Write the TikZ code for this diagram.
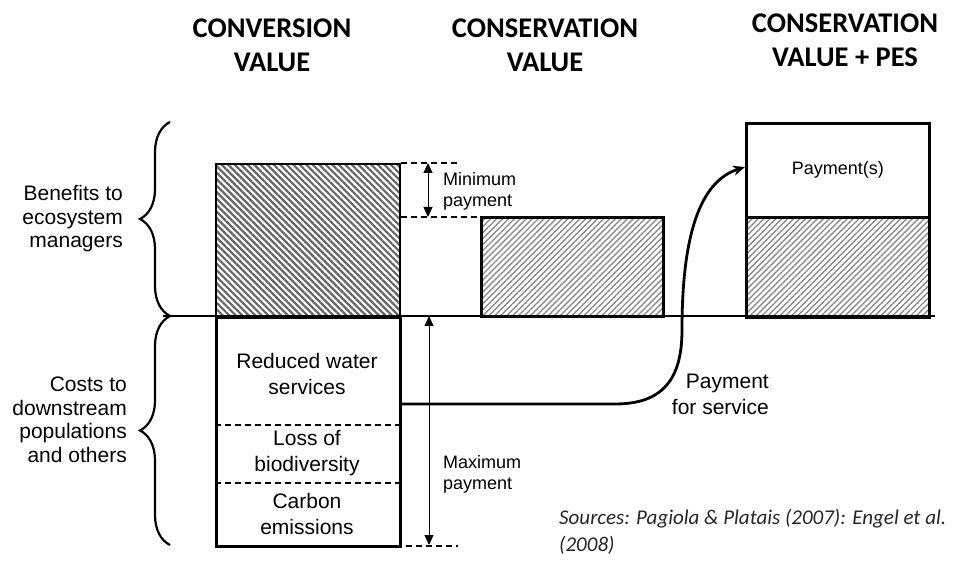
\documentclass[tikz,border=0pt]{standalone}
\usepackage{fontspec}
\setmainfont{Liberation Sans}
\newfontfamily\hdrfont{Carlito}
\usetikzlibrary{patterns.meta,decorations.pathreplacing,arrows.meta,calc}
\begin{document}
\begin{tikzpicture}[x=1pt,y=-1pt,
  box/.style={draw, line width=2.6pt, inner sep=0pt, anchor=north west},
  darkhatch/.style={pattern={Lines[angle=-45,distance=4.6pt,line width=2.2pt]}, pattern color=black!60},
  lighthatch/.style={pattern={Lines[angle=45,distance=4.2pt,line width=1.4pt]}, pattern color=black!45},
  body/.style={font=\fontsize{18}{21}\selectfont, inner sep=0pt, align=center},
  bigbody/.style={font=\fontsize{21}{26}\selectfont, inner sep=0pt, align=center},
  sidelab/.style={font=\fontsize{21}{23.5}\selectfont, inner sep=0pt, anchor=east, align=right},
  hdr/.style={font=\hdrfont\bfseries\fontsize{28.5}{34}\selectfont, inner sep=0pt, align=center},
  dashline/.style={line width=1.3pt, dash pattern=on 6pt off 4pt},
  dimarrow/.style={line width=0.9pt, {Triangle[length=10pt,width=9pt]}-{Triangle[length=10pt,width=9pt]}},
  bracestyle/.style={decorate, decoration={brace, amplitude=30pt}, line width=2.2pt},
]
\useasboundingbox (0,0) rectangle (964,561);

% headers
\node[hdr] (h1) at (272,45) {CONVERSION\\VALUE};
\node[hdr] (h2) at (545,45) {CONSERVATION\\VALUE};
\node[hdr] (h3) at (845,40) {CONSERVATION\\VALUE + PES};

% boxes
\node[box, darkhatch, minimum width=184pt, minimum height=153pt] (conv) at (215,163) {};
\node[box, minimum width=184pt, minimum height=229pt] (costs) at (215,316) {};
\node[box, lighthatch, minimum width=182pt, minimum height=99pt] (cons) at (481,217) {};
\node[box, minimum width=183pt, minimum height=94pt] (pay) at (745,122) {};
\node[box, lighthatch, minimum width=183pt, minimum height=100pt] (pes) at (745,216) {};

% baseline
\coordinate (bl) at (163,316);
\coordinate (br) at (935,316);
\draw[line width=2pt] (bl) -- (br);

% separators in costs box
\coordinate (s1) at (215,425);
\coordinate (s2) at (215,483);
\draw[dashline] (s1) -- (s1 -| costs.east);
\draw[dashline] (s2) -- (s2 -| costs.east);

% texts inside
\node[bigbody] (t1) at (307,374) {Reduced water\\services};
\node[bigbody] (t2) at (307,453) {Loss of\\biodiversity};
\node[bigbody] (t3) at (307,514) {Carbon\\emissions};
\node[body] (t4) at (pay.center) {Payment(s)};

% minimum payment
\coordinate (m1) at (458,163);
\draw[dashline] (conv.north east) -- (m1);
\draw[dashline] (conv.east |- cons.north) -- (cons.north west);
\coordinate (ma) at (428,163);
\coordinate (mb) at (428,217);
\draw[dimarrow] (ma) -- (mb);
\node[body, anchor=west, align=left] (minlab) at (443,191) {Minimum\\payment};

% maximum payment
\coordinate (xa) at (429,316);
\coordinate (xb) at (429,545);
\draw[dimarrow] (xa) -- (xb);
\coordinate (d1) at (406,546);
\coordinate (d2) at (458,546);
\draw[dashline] (d1) -- (d2);
\node[body, anchor=west, align=left] (maxlab) at (443,474) {Maximum\\payment};

% payment curve
\coordinate (p0) at ($(costs.north east)+(0,88)$);
\draw[line width=2.8pt, -{Stealth[length=12pt,width=10pt]}]
  (p0) -- (615,404) .. controls (662,404) and (682,380) .. (682,330)
  .. controls (682,240) and (698,182) .. (pay.west |- 0,167);
\node[bigbody, anchor=east, align=right] (pfs) at (769,394) {Payment\\for service};

% braces and side labels
\coordinate (b1t) at (170,122);
\coordinate (b1b) at (170,316);
\coordinate (b2t) at (170,316);
\coordinate (b2b) at (170,545);
\draw[bracestyle] (b1b) -- (b1t);
\draw[bracestyle] (b2b) -- (b2t);
\node[sidelab] (ben) at (123,219) {Benefits to\\ecosystem\\managers};
\node[sidelab] (cst) at (127,420) {Costs to\\downstream\\populations\\and others};

% sources
\node[font=\hdrfont\itshape\fontsize{21}{27}\selectfont, anchor=north west, inner sep=0pt, align=left, text=black!85] (src) at (559,509) {Sources: Pagiola \& Platais (2007): Engel et al.\\(2008)};
\end{tikzpicture}
\end{document}
